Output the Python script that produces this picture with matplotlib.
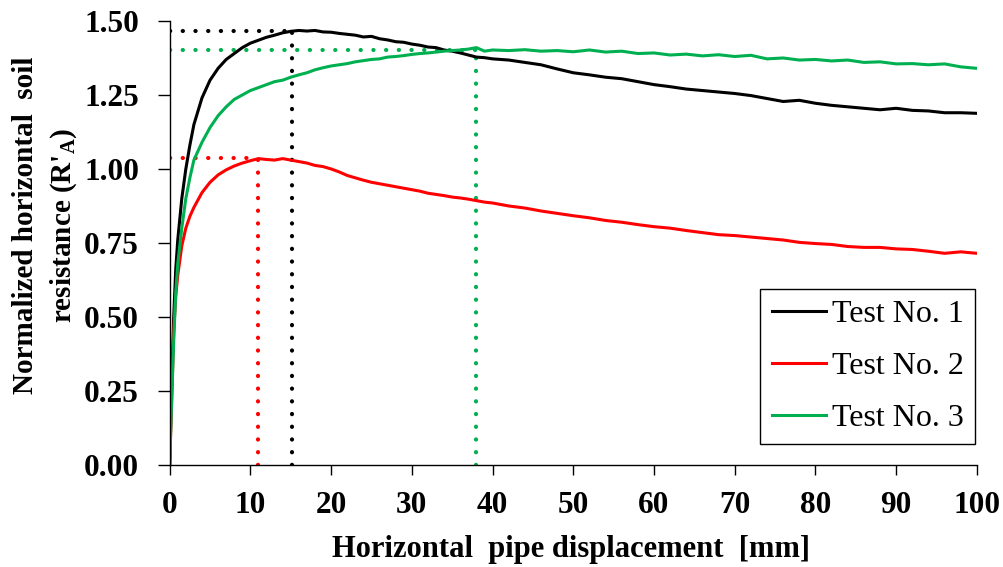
import matplotlib
matplotlib.use("Agg")
import matplotlib.pyplot as plt

# displacement [mm]
x = [0, 0.25, 0.5, 0.75, 1, 1.5, 2, 2.5, 3, 4, 5, 6, 7, 8, 9,
     10, 11, 12, 13, 14, 15, 16, 17, 18, 19, 20, 21, 22, 23, 24, 25,
     26, 27, 28, 29, 30, 31, 32, 33, 34, 35, 36, 37, 38, 39, 40,
     42, 44, 46, 48, 50, 52, 54, 56, 58, 60, 62, 64, 66, 68, 70,
     72, 74, 76, 78, 80, 82, 84, 86, 88, 90, 92, 94, 96, 98, 100]

test1 = [0, 0.28, 0.50, 0.66, 0.76, 0.90, 1.00, 1.08, 1.15, 1.24, 1.30, 1.34, 1.37, 1.39, 1.41,
         1.425, 1.435, 1.445, 1.452, 1.46, 1.465, 1.468, 1.466, 1.468, 1.463, 1.462, 1.458, 1.455, 1.452, 1.446, 1.448,
         1.44, 1.436, 1.43, 1.428, 1.422, 1.418, 1.412, 1.41, 1.402, 1.398, 1.392, 1.385, 1.378, 1.376, 1.372,
         1.368, 1.36, 1.352, 1.338, 1.325, 1.318, 1.31, 1.305, 1.295, 1.285, 1.278, 1.27, 1.265, 1.26, 1.255,
         1.248, 1.238, 1.228, 1.232, 1.222, 1.215, 1.21, 1.205, 1.20, 1.205, 1.198, 1.196, 1.19, 1.19, 1.188]

test2 = [0, 0.22, 0.45, 0.57, 0.64, 0.74, 0.80, 0.84, 0.87, 0.92, 0.955, 0.98, 0.997, 1.01, 1.02,
         1.028, 1.035, 1.032, 1.03, 1.035, 1.03, 1.025, 1.02, 1.012, 1.008, 1.0, 0.99, 0.978, 0.97, 0.962, 0.955,
         0.95, 0.945, 0.94, 0.935, 0.93, 0.925, 0.918, 0.914, 0.91, 0.905, 0.902, 0.898, 0.893, 0.888, 0.885,
         0.875, 0.868, 0.858, 0.85, 0.842, 0.835, 0.826, 0.82, 0.812, 0.805, 0.80, 0.792, 0.785, 0.778, 0.775,
         0.77, 0.765, 0.76, 0.752, 0.748, 0.745, 0.738, 0.735, 0.735, 0.73, 0.728, 0.722, 0.715, 0.72, 0.715]

test3 = [0, 0.22, 0.42, 0.58, 0.68, 0.80, 0.90, 0.97, 1.03, 1.09, 1.14, 1.18, 1.21, 1.235, 1.25,
         1.265, 1.275, 1.285, 1.295, 1.30, 1.31, 1.318, 1.325, 1.335, 1.342, 1.348, 1.352, 1.356, 1.362, 1.366, 1.37,
         1.372, 1.378, 1.38, 1.383, 1.387, 1.39, 1.392, 1.395, 1.398, 1.40, 1.402, 1.405, 1.41, 1.398, 1.402,
         1.40, 1.403, 1.398, 1.40, 1.396, 1.402, 1.395, 1.398, 1.39, 1.392, 1.385, 1.388, 1.382, 1.386, 1.38,
         1.384, 1.372, 1.375, 1.368, 1.37, 1.365, 1.368, 1.36, 1.362, 1.355, 1.356, 1.352, 1.355, 1.345, 1.34]

labels = ['Test No. 1', 'Test No. 2', 'Test No. 3']
colors = ['black', '#ff0000', '#00b050']

# peak markers (x at peak, peak value)
peak_x = [15.2, 10.9, 37.9]
peak_y = [1.465, 1.037, 1.402]

plt.rcParams['font.family'] = 'Liberation Serif'
plt.rcParams['mathtext.fontset'] = 'custom'
plt.rcParams['mathtext.rm'] = 'Liberation Serif:bold'

fig = plt.figure(figsize=(10.04, 5.67), dpi=100)
ax = fig.add_axes([0.169, 0.180, 0.804, 0.783])

for xp, yp, c in zip(peak_x, peak_y, colors):
    ax.plot([0, xp], [yp, yp], color=c, lw=3.0, linestyle=(0, (0.05, 3.0)),
            dash_capstyle='round', zorder=1)
    ax.plot([xp, xp], [0, yp], color=c, lw=3.0, linestyle=(0, (0.05, 3.0)),
            dash_capstyle='round', zorder=1)

for ys, c, lab in zip([test1, test2, test3], colors, labels):
    ax.plot(x, ys, color=c, lw=2.2, label=lab, zorder=2)

ax.set_xlim(0, 100)
ax.set_ylim(0, 1.5)
ax.set_xticks(range(0, 101, 10))
ax.set_yticks([0, 0.25, 0.5, 0.75, 1.0, 1.25, 1.5])
ax.set_yticklabels(['0.00', '0.25', '0.50', '0.75', '1.00', '1.25', '1.50'])

for s in ['top', 'right']:
    ax.spines[s].set_visible(False)
for s in ['left', 'bottom']:
    ax.spines[s].set_linewidth(1.0)

ax.tick_params(direction='out', width=1.0, labelsize=22.5)
ax.tick_params(axis='y', length=9, pad=13)
ax.tick_params(axis='x', length=7, pad=12)
for t in ax.get_xticklabels() + ax.get_yticklabels():
    t.set_fontweight('bold')

ax.set_xlabel('Horizontal  pipe displacement  [mm]', fontsize=22, fontweight='bold')
ax.xaxis.set_label_coords(0.497, -0.158)
ax.set_ylabel("Normalized horizontal  soil\nresistance (R'$_\\mathregular{A}$)", fontsize=21,
              fontweight='bold', linespacing=1.45)
ax.yaxis.set_label_coords(-0.112, 0.54)

leg = ax.legend(loc='lower right', bbox_to_anchor=(0.998, 0.047), fontsize=23,
                fancybox=False, edgecolor='black', framealpha=1, handlelength=1.7,
                handletextpad=0.2, labelspacing=0.7, borderpad=0.35, borderaxespad=0)
leg.get_frame().set_linewidth(1.0)

fig.savefig('out.png', dpi=100)
